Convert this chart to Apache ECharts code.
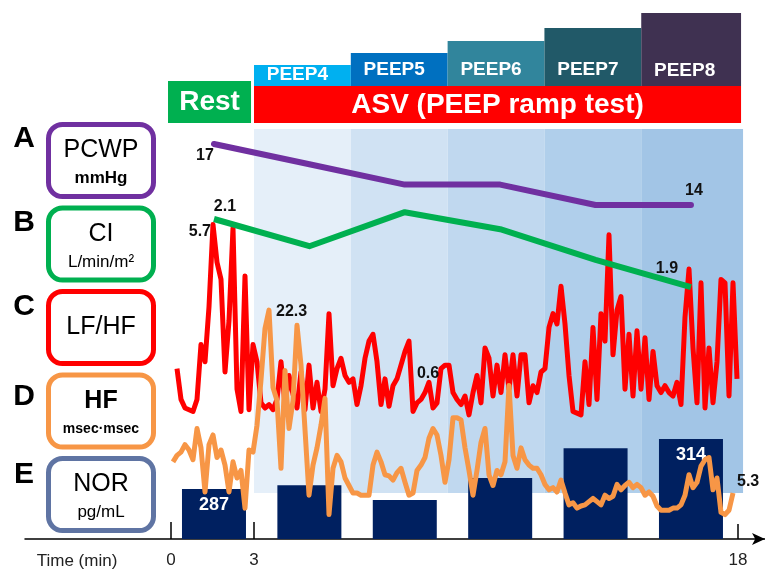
<!DOCTYPE html>
<html>
<head>
<meta charset="utf-8">
<title>PEEP ramp test</title>
<script src="https://cdn.jsdelivr.net/npm/echarts@6/dist/echarts.min.js"></script>
<style>
  html, body { margin: 0; background: #fff; }
  #main { width: 765px; height: 570px; }
</style>
</head>
<body>
<div id="main"></div>
<script>
  // one measurement per phase: rest, then PEEP 4..8 of the ASV ramp
  var phases = ['Rest', 'PEEP4', 'PEEP5', 'PEEP6', 'PEEP7', 'PEEP8'];
  var pcwp = [17, 16, 15, 15, 14, 14];            // mmHg
  var ci = [2.1, 2.02, 2.12, 2.07, 1.98, 1.9];     // L/min/m2
  var nor = [287, 289, 281, 293, 309, 314];        // pg/mL

  // ramp steps (min)
  var peepStart = [3, 6, 9, 12, 15];
  var peepEnd = [6, 9, 12, 15, 18];
  var restTicks = [0, 3];
  var asvTicks = [18];

  // continuous HRV traces, one sample per step
  var lfhf = [1.5, 0.6, 0.35, 0.3, 0.25, 0.6, 2.2, 1.7, 3.3, 5.7,
    4.6, 4.1, 1.4, 2.9, 5.6, 0.9, 0.25, 4.2, 0.3, 2.2,
    1.7, 0.5, 0.35, 0.45, 0.3, 0.6, 1.7, 0.45, 1.3, 0.75,
    0.35, 1.4, 0.3, 1.6, 0.35, 1.1, 0.25, 0.9, 3.1, 1.0,
    1.5, 1.8, 1.3, 1.1, 1.2, 0.45, 1.0, 1.8, 2.3, 2.5,
    1.7, 0.45, 1.2, 0.4, 1.0, 1.2, 1.6, 2.0, 2.3, 0.25,
    0.5, 0.6, 0.8, 1.1, 0.35, 0.5, 1.5, 1.6, 1.6, 0.8,
    0.6, 0.45, 0.7, 0.15, 0.8, 1.3, 0.5, 2.1, 1.8, 0.7,
    1.6, 0.8, 1.9, 0.9, 1.9, 0.7, 1.9, 1.9, 0.5, 1.0,
    0.8, 1.4, 1.5, 2.7, 3.1, 2.8, 3.9, 2.8, 1.3, 0.25,
    0.2, 0.15, 1.7, 0.45, 2.7, 0.6, 3.1, 2.3, 5.4, 1.9,
    3.2, 3.6, 0.9, 2.5, 0.7, 2.6, 0.9, 2.4, 0.6, 2.0,
    1.0, 0.8, 1.0, 0.8, 0.7, 1.1, 0.45, 3.0, 4.4, 2.1,
    0.5, 4.0, 0.35, 2.1, 0.5, 1.7, 4.1, 4.0, 0.7, 4.0,
    1.2];
  var hf = [8.2, 8.8, 9.1, 9.8, 9.3, 8.4, 11.3, 9.5, 5.4, 9.8,
    10.7, 8.6, 9.3, 7.9, 5.4, 8.2, 6.7, 7.4, 3.9, 9.3,
    9.1, 11.6, 15.8, 20.6, 22.3, 15.1, 13.9, 7.6, 16.7, 11.3,
    13.9, 20.9, 17.2, 11.2, 5.1, 7.9, 9.5, 11.6, 14.1, 3.3,
    7.6, 8.8, 8.2, 6.7, 6.0, 5.3, 5.3, 5.1, 5.1, 5.1,
    7.9, 9.1, 8.2, 7.0, 6.9, 6.5, 7.2, 7.6, 6.3, 5.1,
    5.3, 7.4, 7.9, 8.6, 10.4, 11.3, 10.7, 8.8, 6.3, 8.4,
    12.3, 12.3, 12.1, 9.5, 7.4, 5.1, 7.4, 10.0, 11.3, 7.0,
    6.0, 7.4, 7.0, 8.2, 15.3, 8.8, 7.6, 9.5, 8.4, 7.9,
    7.6, 7.6, 7.0, 6.1, 5.6, 5.8, 5.4, 6.5, 5.3, 4.2,
    4.4, 3.9, 4.1, 4.2, 4.5, 4.8, 4.5, 4.2, 5.1, 4.8,
    5.0, 6.1, 5.6, 6.0, 6.3, 5.8, 6.1, 5.8, 5.1, 5.4,
    5.0, 4.1, 3.7, 3.7, 3.7, 3.9, 3.9, 4.2, 5.1, 7.0,
    5.8, 6.3, 7.8, 8.4, 8.6, 5.6, 6.7, 3.5, 3.3, 3.7,
    5.3];
  var lfhfOffset = 1;   // LF/HF trace starts one sample after HF

  // rows of the figure
  var rowLetters = ['A', 'B', 'C', 'D', 'E'];
  var rowTitles = ['PCWP', 'CI', 'LF/HF', 'HF', 'NOR'];
  var rowUnits = ['mmHg', 'L/min/m²', '', 'msec·msec', 'pg/mL'];

  var FONT = 'Liberation Sans, Arial, sans-serif';
  var rowColors = ['#7030a0', '#00b050', '#ff0000', '#f79646', '#5f74a3'];
  var peepColors = ['#00b0f0', '#0070c0', '#31859c', '#215968', '#3f3151'];
  var bandColors = ['#e5eff9', '#d0e2f3', '#c0d8ef', '#b0cfeb', '#a2c5e6'];

  var valLabel = {
    show: true, fontFamily: FONT, fontWeight: 'bold', fontSize: 16, color: '#111',
    formatter: function (p) { return p.value[1]; }
  };
  function withLabel(point, extra) {
    return { value: point, label: Object.assign({}, valLabel, extra) };
  }

  var dom = document.getElementById('main');
  var chart = echarts.init(dom, null, { renderer: 'canvas' });

  var pcwpData = pcwp.map(function (v, i) {
    var p = [i, v];
    if (i === 0) return withLabel(p, { position: 'bottom', distance: 4, offset: [-9, 0] });
    if (i === pcwp.length - 1) return withLabel(p, { position: 'top', distance: 6, offset: [3, 0] });
    return p;
  });
  var ciData = ci.map(function (v, i) {
    var p = [i, v];
    if (i === 0) return withLabel(p, { position: 'top', distance: 4, offset: [11, 0] });
    if (i === ci.length - 1) return withLabel(p, { position: 'top', distance: 10, offset: [-24, 0] });
    return p;
  });
  var lfhfData = lfhf.map(function (v, i) {
    var p = [i + lfhfOffset, v];
    if (i === 9) return withLabel(p, { position: 'left', distance: 2, offset: [0, 7] });
    if (i === 61) return withLabel(p, { position: 'top', distance: 18, offset: [7, 0] });
    return p;
  });
  var hfData = hf.map(function (v, i) {
    var p = [i, v];
    if (i === 24) return withLabel(p, { position: 'right', distance: 7, offset: [0, 1] });
    if (i === hf.length - 1) return withLabel(p, { position: 'right', distance: 4, offset: [0, -11] });
    return p;
  });
  var norData = nor.map(function (v, i) {
    var item = { value: [i, v] };
    if (i === 0 || i === nor.length - 1) {
      item.label = {
        show: true, position: 'insideTop', distance: 7, color: '#fff',
        fontFamily: FONT, fontWeight: 'bold', fontSize: 18,
        formatter: function (p) { return p.value[1]; }
      };
    }
    return item;
  });

  var hiddenX = { type: 'value', show: false, position: 'bottom', splitLine: { show: false } };
  var hiddenY = { type: 'value', show: false, splitLine: { show: false } };
  var tickLabel = { fontFamily: FONT, fontSize: 17, color: '#222', margin: 13 };

  var option = {
    animation: false,
    backgroundColor: '#fff',
    grid: { left: 25, right: 0, top: 0, bottom: 31, containLabel: false, outerBoundsMode: 'none' },
    xAxis: [
      // rest period (0-3 min)
      {
        type: 'value', position: 'bottom', min: -5.277, max: 21.468,
        axisLine: { show: false, onZero: false },
        splitLine: { show: false },
        axisTick: { show: true, inside: true, length: 17, customValues: restTicks,
          lineStyle: { color: '#000', width: 1.5 } },
        axisLabel: Object.assign({ customValues: restTicks }, tickLabel)
      },
      // ASV ramp (3-18 min)
      {
        type: 'value', position: 'bottom', min: -4.096, max: 18.835,
        axisLine: { show: true, onZero: false, symbol: ['none', 'arrow'], symbolSize: [9, 13],
          lineStyle: { color: '#000', width: 1.5 } },
        splitLine: { show: false },
        axisTick: { show: true, inside: true, length: 15, customValues: asvTicks,
          lineStyle: { color: '#000', width: 1.5 } },
        axisLabel: Object.assign({ customValues: asvTicks }, tickLabel)
      },
      // phase index (rest, PEEP4..PEEP8)
      Object.assign({ min: -1.981, max: 5.776 }, hiddenX),
      // trace sample index
      Object.assign({ min: -37, max: 148 }, hiddenX)
    ],
    yAxis: [
      Object.assign({ min: -2.43, max: 24.08 }, hiddenY),      // PCWP
      Object.assign({ min: 1.159, max: 2.744 }, hiddenY),      // CI
      Object.assign({ min: -3.469, max: 12.245 }, hiddenY),    // LF/HF
      Object.assign({ min: 1.03, max: 51.12 }, hiddenY),       // HF
      Object.assign({ min: 260, max: 551, startValue: 260 }, hiddenY) // NOR
    ],
    series: [
      {
        name: 'NOR', type: 'bar', xAxisIndex: 2, yAxisIndex: 4,
        barWidth: 64, clip: true, data: norData,
        itemStyle: { color: '#002060' }
      },
      {
        name: 'LF/HF', type: 'line', xAxisIndex: 3, yAxisIndex: 2, data: lfhfData,
        showSymbol: true, showAllSymbol: true, symbolSize: 0,
        lineStyle: { color: '#ff0000', width: 5, join: 'round' },
        itemStyle: { color: '#ff0000' }
      },
      {
        name: 'HF', type: 'line', xAxisIndex: 3, yAxisIndex: 3, data: hfData,
        showSymbol: true, showAllSymbol: true, symbolSize: 0,
        lineStyle: { color: '#f79646', width: 5, join: 'round' },
        itemStyle: { color: '#f79646' }
      },
      {
        name: 'CI', type: 'line', xAxisIndex: 2, yAxisIndex: 1, data: ciData,
        showSymbol: true, showAllSymbol: true, symbolSize: 0,
        lineStyle: { color: '#00b050', width: 6, join: 'round' },
        itemStyle: { color: '#00b050' }
      },
      {
        name: 'PCWP', type: 'line', xAxisIndex: 2, yAxisIndex: 0, data: pcwpData,
        showSymbol: true, showAllSymbol: true, symbolSize: 0,
        lineStyle: { color: '#7030a0', width: 6, join: 'round', cap: 'round' },
        itemStyle: { color: '#7030a0' }
      }
    ]
  };
  chart.setOption(option);

  // decorations placed with the chart's own time scales
  var xRest = function (t) { return chart.convertToPixel({ xAxisIndex: 0 }, t); };
  var xAsv = function (t) { return chart.convertToPixel({ xAxisIndex: 1 }, t); };

  var elements = [];
  function text(str, x, y, size, weight, color) {
    elements.push({
      type: 'text', z: 5,
      style: { text: str, x: x, y: y, align: 'center', verticalAlign: 'middle',
        font: (weight || 'normal') + ' ' + size + 'px ' + FONT, fill: color || '#000' }
    });
  }
  function rect(x, y, w, h, fill) {
    elements.push({ type: 'rect', z: 0, shape: { x: x, y: y, width: w, height: h }, style: { fill: fill } });
  }

  // shaded PEEP periods
  var peepTops = [65, 53, 41, 28, 13];
  var peepTextY = [75, 70, 70, 70, 71];
  peepStart.forEach(function (s, i) {
    var x0 = xAsv(s), x1 = xAsv(peepEnd[i]);
    rect(x0, 129, x1 - x0 + (i === peepStart.length - 1 ? 5 : 0), 364, bandColors[i]);
    rect(x0, peepTops[i], x1 - x0 + (i === peepStart.length - 1 ? 3 : 0), 86 - peepTops[i], peepColors[i]);
    text(phases[i + 1], (x0 + x1) / 2 - 5, peepTextY[i], 19, 'bold', '#fff');
  });

  // Rest and ASV headers
  var r0 = xRest(restTicks[0]) - 3, r1 = xRest(restTicks[1]) - 3;
  rect(r0, 81, r1 - r0, 42, '#00b050');
  text(phases[0], (r0 + r1) / 2, 102, 28, 'bold', '#fff');
  var a0 = xAsv(peepStart[0]), a1 = xAsv(peepEnd[peepEnd.length - 1]) + 3;
  rect(a0, 86, a1 - a0, 37, '#ff0000');
  text('ASV (PEEP ramp test)', (a0 + a1) / 2, 105, 28, 'bold', '#fff');

  // row legend boxes
  var letterY = [139, 223, 307, 397, 475];
  rowTitles.forEach(function (t, i) {
    var top = 124.5 + i * 83.5;
    elements.push({
      type: 'rect', z: 5,
      shape: { x: 48.5, y: top, width: 105, height: 72, r: 14 },
      style: { fill: '#fff', stroke: rowColors[i], lineWidth: 5 }
    });
    text(rowLetters[i], 24, letterY[i], 30, 'bold', '#000');
    if (rowUnits[i]) {
      text(t, 101, top + 26, 25, i === 3 ? 'bold' : 'normal');
      text(rowUnits[i], 101, top + 54, i === 3 ? 14 : 17, (i === 0 || i === 3) ? 'bold' : 'normal');
    } else {
      text(t, 101, top + 36, 25, 'normal');
    }
  });

  text('Time (min)', 77, 561, 17, 'normal', '#222');

  chart.setOption({ graphic: { elements: elements } });
</script>
</body>
</html>
